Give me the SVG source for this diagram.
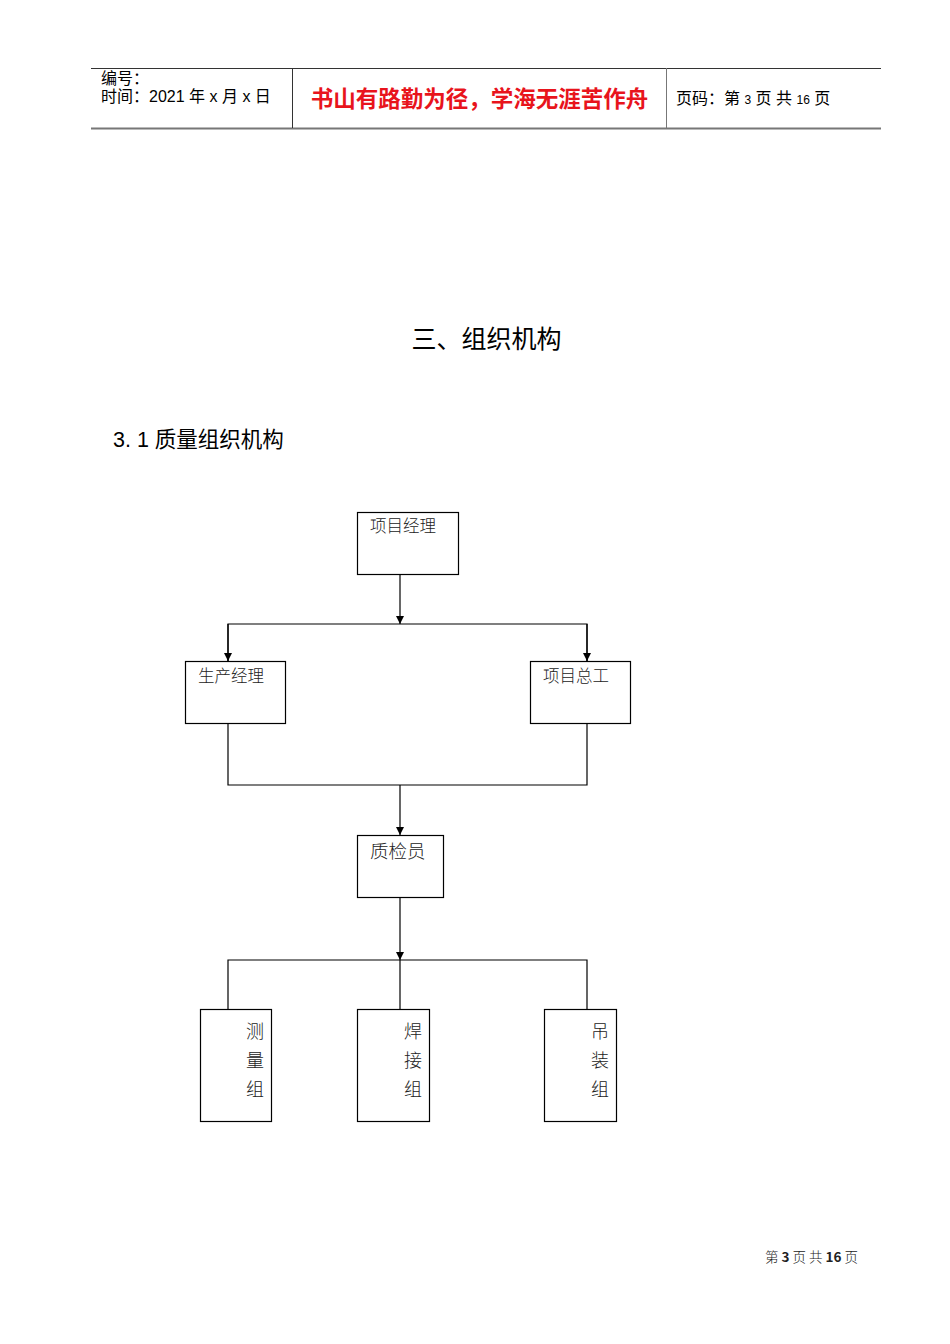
<svg xmlns="http://www.w3.org/2000/svg" width="950" height="1344" viewBox="0 0 950 1344">
<style>
.box{fill:#fff;stroke:#000;stroke-width:1.2}
.ln{fill:none;stroke:#000;stroke-width:1.2}
.lab{font-family:"Noto Sans CJK SC","Liberation Serif",serif;font-size:16.5px;fill:#222;font-weight:300}
.vlab{font-family:"Noto Sans CJK SC","Liberation Serif",serif;font-size:18px;fill:#222;font-weight:300;text-anchor:middle}
.hd{font-family:"Liberation Sans","Noto Sans CJK SC",sans-serif;font-size:16px;fill:#000}
</style>
<defs>
<marker id="arr" viewBox="0 0 10 10" refX="10" refY="5" markerWidth="8" markerHeight="8" markerUnits="userSpaceOnUse" orient="auto">
<path d="M0,0 L10,5 L0,10 z" fill="#000"/>
</marker>
</defs>
<rect width="950" height="1344" fill="#fff"/>
<g id="header">
<line x1="91" y1="68.5" x2="881" y2="68.5" stroke="#333" stroke-width="1"/>
<line x1="91" y1="128.5" x2="881" y2="128.5" stroke="#777" stroke-width="2"/>
<line x1="292.5" y1="68" x2="292.5" y2="128" stroke="#333" stroke-width="1"/>
<line x1="666.5" y1="68" x2="666.5" y2="128" stroke="#777" stroke-width="1"/>
<text class="hd" x="101" y="84">编号：</text>
<text class="hd" x="101" y="102">时间：2021 年 x 月 x 日</text>
<text x="479.5" y="107" text-anchor="middle" font-family="Noto Sans CJK SC, sans-serif" font-size="22.5" font-weight="bold" fill="#e8141c">书山有路勤为径，学海无涯苦作舟</text>
<text class="hd" x="676" y="104">页码：第 <tspan font-size="12">3</tspan> 页 共 <tspan font-size="12">16</tspan> 页</text>
</g>
<text x="486.5" y="348" text-anchor="middle" font-family="Noto Sans CJK SC, sans-serif" font-size="25" fill="#000">三、组织机构</text>
<text x="113" y="447" font-family="Liberation Sans, Noto Sans CJK SC, sans-serif" font-size="21.5" fill="#000">3. 1 质量组织机构</text>
<g id="connectors">
<line class="ln" x1="400" y1="574" x2="400" y2="624" marker-end="url(#arr)"/>
<polyline class="ln" points="228,661 228,624 587,624 587,661"/>
<line class="ln" x1="228" y1="624" x2="228" y2="661" marker-end="url(#arr)"/>
<line class="ln" x1="587" y1="624" x2="587" y2="661" marker-end="url(#arr)"/>
<polyline class="ln" points="228,723 228,785 587,785 587,723"/>
<line class="ln" x1="400" y1="785" x2="400" y2="835" marker-end="url(#arr)"/>
<line class="ln" x1="400" y1="897" x2="400" y2="960" marker-end="url(#arr)"/>
<polyline class="ln" points="228,1009 228,960 587,960 587,1009"/>
<line class="ln" x1="400" y1="960" x2="400" y2="1009"/>
</g>
<g id="n-pm"><rect class="box" x="357.5" y="512.5" width="101" height="62"/><text class="lab" x="370" y="532">项目经理</text></g>
<g id="n-prod"><rect class="box" x="185.5" y="661.5" width="100" height="62"/><text class="lab" x="198" y="682">生产经理</text></g>
<g id="n-chief"><rect class="box" x="530.5" y="661.5" width="100" height="62"/><text class="lab" x="543" y="682">项目总工</text></g>
<g id="n-qc"><rect class="box" x="357.5" y="835.5" width="86" height="62"/><text class="lab" x="370" y="858" style="font-size:18.5px">质检员</text></g>
<g id="n-survey"><rect class="box" x="200.5" y="1009.5" width="71" height="112"/><text class="vlab" x="255" y="1038">测</text><text class="vlab" x="255" y="1067">量</text><text class="vlab" x="255" y="1096">组</text></g>
<g id="n-weld"><rect class="box" x="357.5" y="1009.5" width="72" height="112"/><text class="vlab" x="413" y="1038">焊</text><text class="vlab" x="413" y="1067">接</text><text class="vlab" x="413" y="1096">组</text></g>
<g id="n-lift"><rect class="box" x="544.5" y="1009.5" width="72" height="112"/><text class="vlab" x="600" y="1038">吊</text><text class="vlab" x="600" y="1067">装</text><text class="vlab" x="600" y="1096">组</text></g>
<text x="811.5" y="1262" text-anchor="middle" font-family="Noto Sans CJK SC, sans-serif" font-size="13.5" fill="#222" font-weight="300">第 <tspan font-weight="bold">3</tspan> 页 共 <tspan font-weight="bold">16</tspan> 页</text>
</svg>
